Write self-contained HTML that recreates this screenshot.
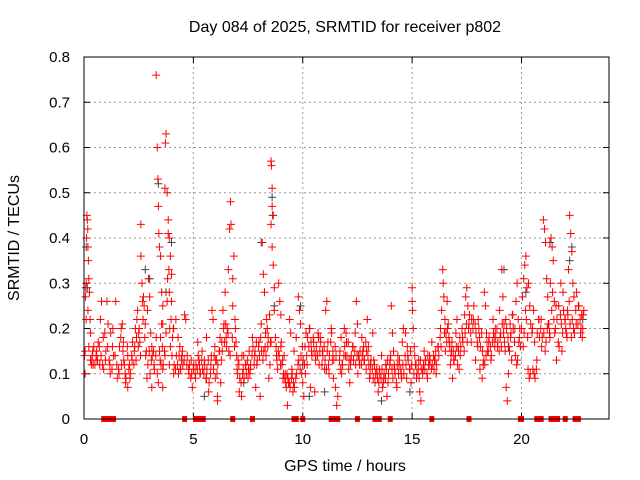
<!DOCTYPE html>
<html><head><meta charset="utf-8"><style>
body{margin:0;background:#fff;}
svg{display:block;font-family:"Liberation Sans",sans-serif;}
</style></head><body>
<svg id="chart" width="640" height="480">
<text x="345" y="32" text-anchor="middle" font-size="16">Day 084 of 2025, SRMTID for receiver p802</text>
<text x="345" y="471" text-anchor="middle" font-size="16">GPS time / hours</text>
<text transform="translate(19,238) rotate(-90)" text-anchor="middle" font-size="16">SRMTID / TECUs</text>
<g id="grid"></g>
<g id="ticks"></g>
<g id="gray"></g>
<g id="red"></g>
<rect x="84" y="57" width="525" height="362" fill="none" stroke="#000" stroke-width="1"/>
</svg>
<script>
const xTicks=[0,5,10,15,20];
const yTicks=[0,0.1,0.2,0.3,0.4,0.5,0.6,0.7,0.8];
const yTickLabels=["0","0.1","0.2","0.3","0.4","0.5","0.6","0.7","0.8"];
const redHours=[0.02,0.05,0.05,0.07,0.1,0.1,0.12,0.13,0.15,0.17,0.18,0.2,0.22,0.25,0.28,0.3,0.3,0.35,0.4,0.45,0.5,0.55,0.6,0.65,0.7,0.75,0.8,0.85,0.9,0.95,1.0,1.05,1.1,1.15,1.2,1.3,1.35,1.45,1.5,1.6,1.7,1.75,1.8,1.85,1.9,2.0,2.0,2.05,2.1,2.2,2.3,2.35,2.4,2.45,2.5,2.55,2.6,2.6,2.65,2.7,2.75,2.8,2.85,2.9,2.95,3.0,3.05,3.1,3.1,3.2,3.3,3.35,3.4,3.45,3.5,3.55,3.6,3.6,3.7,3.75,3.8,3.82,3.85,3.88,3.9,3.9,3.95,4.0,4.05,4.1,3.3,3.35,3.38,3.4,3.42,3.45,3.5,3.55,3.7,3.72,3.75,3.8,3.85,3.9,3.95,4.0,3.6,3.6,4.1,4.2,4.3,4.35,4.4,4.45,4.5,4.6,4.65,4.7,4.8,4.9,4.95,5.0,5.1,5.2,5.25,5.3,5.4,5.5,5.6,5.6,5.7,5.8,5.85,5.9,5.95,6.0,6.05,6.1,6.1,6.2,6.25,6.3,6.35,6.4,6.45,6.5,6.55,6.6,6.65,6.7,6.72,6.8,6.8,6.85,6.9,6.95,7.0,7.05,7.1,7.2,7.25,7.3,7.4,7.5,7.55,7.6,7.7,7.8,7.85,7.9,8.0,8.05,8.1,8.15,8.2,8.25,8.3,8.35,8.4,8.45,8.5,8.55,8.55,8.57,8.6,8.6,8.62,8.55,8.6,8.65,8.7,8.7,8.75,8.8,8.85,8.9,8.95,9.0,9.0,9.05,9.1,9.15,9.2,9.25,9.3,9.35,9.4,9.45,9.5,9.55,9.6,9.7,9.8,9.85,9.9,9.95,10.0,10.05,10.1,10.15,10.2,10.3,10.35,10.4,10.5,10.55,10.6,10.7,10.75,10.8,10.9,11.0,11.05,11.1,11.15,11.2,11.3,11.35,11.4,11.5,11.55,11.6,11.7,11.75,11.8,11.9,11.95,12.0,12.1,12.15,12.2,12.3,12.4,12.45,12.5,12.55,12.6,12.7,12.75,12.8,12.9,12.95,13.0,13.05,13.1,13.2,13.25,13.3,13.4,13.45,13.5,13.6,13.65,13.7,13.8,13.85,13.9,14.0,14.05,14.1,14.15,14.2,14.3,14.35,14.4,14.5,14.55,14.6,14.7,14.75,14.8,14.9,14.95,15.0,15.0,15.02,15.05,15.1,15.15,15.2,15.3,15.35,15.4,15.5,15.55,15.6,15.7,15.75,15.8,15.9,16.0,16.05,16.1,16.2,16.3,16.35,16.4,16.42,16.45,16.5,16.55,16.6,16.65,16.7,16.75,16.8,16.85,16.9,17.0,17.05,17.1,17.15,17.2,17.3,17.4,17.45,17.5,17.55,17.6,17.7,17.8,17.9,18.0,18.05,18.1,18.2,18.25,18.3,18.35,18.4,18.45,18.5,18.6,18.7,18.75,18.8,18.9,19.0,19.05,19.1,19.15,19.2,19.25,19.3,19.35,19.4,19.45,19.5,19.55,19.6,19.7,19.75,19.8,19.85,19.9,19.95,20.0,20.05,20.1,20.15,20.2,20.25,20.3,20.35,20.4,20.5,20.55,20.6,20.7,20.8,20.9,20.95,21.0,21.05,21.1,21.15,21.2,21.25,21.3,21.35,21.4,21.45,21.5,21.55,21.6,21.7,21.8,21.85,21.9,22.0,22.05,22.1,22.15,22.2,22.25,22.3,22.35,22.4,22.5,22.6,22.7,22.75,22.8,22.85,
0.08,0.18,0.22,0.32,0.38,0.42,0.58,0.62,0.72,0.78,0.88,0.98,1.08,1.18,1.22,1.28,1.32,1.42,1.52,1.58,1.62,1.68,1.72,1.78,1.82,1.88,1.92,1.98,2.08,2.12,2.18,2.22,2.28,2.32,2.38,2.42,2.48,2.52,2.58,2.68,2.72,2.78,2.82,2.88,2.92,2.98,3.02,3.08,3.12,3.18,3.22,3.28,3.48,3.52,3.58,3.62,3.68,3.92,3.98,4.02,4.08,4.12,4.18,4.22,4.28,4.32,4.38,4.42,4.48,4.52,4.58,4.72,4.78,4.82,4.88,4.92,5.02,5.08,5.12,5.18,5.22,5.28,5.32,5.38,5.42,5.48,5.52,5.58,5.62,5.68,5.72,5.78,5.82,5.92,5.98,6.02,6.08,6.12,6.18,6.22,6.28,6.32,6.38,6.42,6.48,6.52,6.58,6.62,6.68,6.78,6.88,6.92,6.98,7.02,7.08,7.12,7.18,7.22,7.28,7.32,7.38,7.42,7.48,7.52,7.58,7.62,7.68,7.72,7.78,7.82,7.88,7.92,7.98,8.02,8.08,8.12,8.18,8.22,8.28,8.32,8.38,8.42,8.48,8.52,8.78,8.82,8.88,8.92,8.98,9.02,9.08,9.12,9.18,9.22,9.28,9.32,9.38,9.42,9.48,9.52,9.58,9.62,9.68,9.72,9.78,9.82,9.88,9.92,9.98,10.02,10.08,10.12,10.18,10.22,10.28,10.32,10.38,10.42,10.48,10.52,10.58,10.62,10.68,10.72,10.78,10.82,10.88,10.92,10.98,11.02,11.08,11.12,11.18,11.22,11.28,11.32,11.38,11.42,11.48,11.52,11.68,11.72,11.78,11.82,11.88,11.92,11.98,12.02,12.08,12.12,12.18,12.22,12.28,12.32,12.38,12.42,12.48,12.52,12.58,12.62,12.68,12.72,12.78,12.82,12.88,12.92,12.98,13.02,13.08,13.12,13.18,13.22,13.28,13.32,13.38,13.42,13.48,13.52,13.58,13.62,13.68,13.72,13.78,13.82,13.88,13.92,13.98,14.02,14.08,14.12,14.18,14.22,14.28,14.32,14.38,14.42,14.48,14.52,14.58,14.62,14.68,14.72,14.78,14.82,14.88,14.92,14.98,15.08,15.12,15.18,15.22,15.28,15.32,15.38,15.42,15.48,15.52,15.58,15.62,15.68,15.72,15.78,15.82,15.88,15.92,15.98,16.02,16.08,16.12,16.18,16.22,16.28,16.32,16.48,16.52,16.58,16.62,16.68,16.72,16.78,16.82,16.88,16.92,16.98,17.02,17.08,17.12,17.18,17.22,17.28,17.32,17.38,17.42,17.48,17.52,17.58,17.62,17.68,17.72,17.78,17.82,17.88,17.92,17.98,18.02,18.08,18.12,18.18,18.22,18.28,18.32,18.38,18.42,18.48,18.52,18.58,18.62,18.68,18.72,18.78,18.82,18.88,18.92,18.98,19.02,19.08,19.12,19.18,19.22,19.28,19.32,19.38,19.42,19.48,19.52,19.58,19.62,19.68,19.72,19.78,19.82,19.88,19.92,20.08,20.12,20.18,20.22,20.28,20.32,20.38,20.42,20.48,20.52,20.58,20.62,20.68,20.72,20.78,20.82,20.88,20.92,21.02,21.08,21.12,21.18,21.22,21.28,21.32,21.38,21.42,21.48,21.52,21.58,21.62,21.68,21.72,21.78,21.82,21.88,21.92,21.98,22.02,22.08,22.12,22.18,22.22,22.28,22.32,22.38,22.42,22.48,22.52,22.58,22.62,22.68,22.72,22.78,22.82];
const redValues=[0.14,0.15,0.10,0.27,0.30,0.22,0.40,0.45,0.44,0.42,0.38,0.35,0.31,0.28,0.22,0.19,0.13,0.12,0.15,0.16,0.12,0.14,0.13,0.17,0.16,0.22,0.26,0.12,0.11,0.19,0.15,0.26,0.21,0.13,0.10,0.16,0.14,0.26,0.12,0.10,0.20,0.21,0.17,0.12,0.08,0.14,0.07,0.11,0.09,0.13,0.15,0.20,0.18,0.24,0.19,0.17,0.43,0.36,0.30,0.22,0.25,0.21,0.15,0.24,0.31,0.27,0.19,0.16,0.07,0.12,0.18,0.10,0.08,0.15,0.18,0.21,0.11,0.07,0.14,0.19,0.26,0.31,0.41,0.33,0.28,0.12,0.16,0.26,0.18,0.10,0.76,0.60,0.53,0.47,0.41,0.38,0.36,0.28,0.51,0.61,0.63,0.50,0.44,0.40,0.36,0.32,0.25,0.21,0.20,0.22,0.18,0.14,0.11,0.13,0.15,0.23,0.22,0.12,0.10,0.13,0.07,0.11,0.09,0.17,0.13,0.10,0.15,0.13,0.18,0.09,0.06,0.12,0.24,0.22,0.14,0.09,0.13,0.05,0.04,0.15,0.08,0.17,0.24,0.21,0.28,0.18,0.20,0.33,0.42,0.48,0.43,0.31,0.25,0.36,0.22,0.17,0.11,0.13,0.06,0.05,0.10,0.14,0.12,0.09,0.15,0.11,0.18,0.14,0.07,0.12,0.17,0.05,0.21,0.39,0.32,0.28,0.19,0.22,0.16,0.09,0.12,0.17,0.57,0.56,0.51,0.47,0.45,0.43,0.38,0.34,0.29,0.24,0.18,0.14,0.11,0.30,0.26,0.23,0.16,0.12,0.09,0.14,0.10,0.07,0.03,0.08,0.22,0.19,0.11,0.06,0.15,0.18,0.27,0.24,0.21,0.10,0.08,0.05,0.16,0.19,0.12,0.20,0.07,0.15,0.17,0.06,0.14,0.19,0.12,0.18,0.15,0.11,0.24,0.26,0.17,0.10,0.20,0.13,0.09,0.07,0.03,0.05,0.15,0.18,0.12,0.20,0.14,0.17,0.11,0.08,0.13,0.16,0.19,0.26,0.21,0.14,0.12,0.18,0.15,0.13,0.11,0.22,0.16,0.09,0.12,0.19,0.13,0.08,0.10,0.06,0.11,0.14,0.07,0.09,0.12,0.05,0.08,0.13,0.25,0.19,0.15,0.11,0.07,0.14,0.12,0.10,0.17,0.20,0.19,0.09,0.14,0.11,0.08,0.29,0.26,0.24,0.20,0.16,0.12,0.09,0.13,0.06,0.04,0.11,0.15,0.13,0.09,0.12,0.14,0.17,0.11,0.13,0.10,0.16,0.20,0.24,0.33,0.30,0.27,0.22,0.19,0.26,0.21,0.17,0.12,0.15,0.09,0.13,0.19,0.22,0.16,0.11,0.14,0.18,0.23,0.27,0.29,0.25,0.21,0.17,0.22,0.13,0.16,0.20,0.11,0.09,0.12,0.28,0.25,0.19,0.15,0.17,0.13,0.22,0.18,0.20,0.16,0.24,0.19,0.33,0.27,0.21,0.15,0.07,0.04,0.10,0.15,0.18,0.13,0.23,0.20,0.26,0.30,0.22,0.18,0.16,0.20,0.27,0.31,0.34,0.36,0.29,0.11,0.09,0.10,0.20,0.24,0.17,0.13,0.22,0.22,0.18,0.44,0.42,0.39,0.31,0.27,0.21,0.18,0.40,0.38,0.35,0.26,0.20,0.13,0.25,0.30,0.15,0.28,0.22,0.19,0.24,0.33,0.45,0.41,0.37,0.30,0.27,0.21,0.25,0.19,0.23,0.20,0.24,
0.29,0.24,0.16,0.13,0.14,0.12,0.15,0.13,0.12,0.14,0.18,0.13,0.16,0.12,0.19,0.11,0.20,0.14,0.09,0.11,0.16,0.18,0.12,0.15,0.13,0.10,0.09,0.16,0.12,0.10,0.14,0.17,0.12,0.16,0.13,0.22,0.16,0.20,0.14,0.26,0.27,0.18,0.14,0.09,0.12,0.15,0.10,0.13,0.14,0.15,0.11,0.14,0.13,0.12,0.16,0.12,0.15,0.20,0.22,0.14,0.20,0.12,0.11,0.14,0.12,0.10,0.16,0.11,0.14,0.12,0.13,0.14,0.11,0.12,0.09,0.10,0.12,0.10,0.12,0.11,0.14,0.12,0.10,0.13,0.11,0.10,0.12,0.09,0.11,0.13,0.08,0.10,0.14,0.11,0.16,0.13,0.10,0.12,0.15,0.18,0.13,0.15,0.20,0.17,0.21,0.16,0.19,0.15,0.14,0.18,0.16,0.20,0.14,0.10,0.12,0.09,0.08,0.14,0.11,0.09,0.12,0.10,0.13,0.11,0.10,0.12,0.14,0.16,0.12,0.15,0.17,0.13,0.16,0.14,0.18,0.15,0.13,0.15,0.16,0.14,0.20,0.18,0.23,0.17,0.16,0.13,0.15,0.14,0.12,0.17,0.13,0.10,0.09,0.08,0.10,0.09,0.08,0.07,0.09,0.10,0.08,0.07,0.09,0.10,0.12,0.13,0.11,0.14,0.16,0.13,0.12,0.10,0.14,0.18,0.16,0.20,0.17,0.14,0.18,0.15,0.13,0.16,0.14,0.18,0.15,0.17,0.12,0.14,0.16,0.13,0.11,0.15,0.12,0.14,0.17,0.19,0.15,0.13,0.16,0.14,0.13,0.11,0.10,0.12,0.14,0.16,0.19,0.14,0.17,0.13,0.12,0.14,0.16,0.13,0.15,0.12,0.14,0.10,0.13,0.15,0.12,0.14,0.16,0.13,0.17,0.15,0.14,0.12,0.10,0.13,0.11,0.09,0.12,0.10,0.11,0.09,0.08,0.10,0.09,0.11,0.08,0.10,0.09,0.11,0.13,0.10,0.12,0.14,0.11,0.09,0.12,0.10,0.08,0.12,0.10,0.13,0.11,0.09,0.12,0.10,0.14,0.12,0.16,0.13,0.11,0.15,0.12,0.10,0.14,0.12,0.10,0.11,0.09,0.13,0.11,0.10,0.12,0.11,0.13,0.10,0.14,0.12,0.13,0.11,0.12,0.14,0.13,0.15,0.12,0.16,0.14,0.18,0.16,0.19,0.15,0.17,0.20,0.18,0.16,0.14,0.17,0.15,0.13,0.14,0.16,0.12,0.15,0.18,0.16,0.20,0.17,0.15,0.19,0.21,0.17,0.20,0.23,0.19,0.22,0.20,0.25,0.21,0.19,0.17,0.22,0.18,0.16,0.19,0.15,0.13,0.12,0.14,0.17,0.15,0.18,0.16,0.14,0.17,0.19,0.16,0.18,0.20,0.17,0.15,0.18,0.16,0.21,0.19,0.17,0.22,0.20,0.18,0.16,0.21,0.19,0.23,0.20,0.17,0.14,0.12,0.13,0.17,0.20,0.16,0.19,0.24,0.22,0.18,0.30,0.25,0.21,0.19,0.11,0.10,0.09,0.11,0.19,0.22,0.18,0.20,0.16,0.19,0.15,0.17,0.20,0.21,0.19,0.30,0.24,0.28,0.22,0.19,0.25,0.22,0.17,0.16,0.23,0.21,0.19,0.24,0.22,0.20,0.18,0.23,0.26,0.21,0.18,0.22,0.20,0.19,0.24,0.28,0.21,0.25,0.22,0.20,0.18,0.23,0.21,0.19,0.22,0.20];
const zeroHours=[0.9,1.0,1.2,1.35,4.6,5.1,5.3,5.45,6.8,7.7,9.6,9.7,10.0,11.3,11.4,11.5,11.6,12.5,13.3,13.4,13.5,14.0,15.9,17.6,19.95,20.0,20.7,20.8,20.9,21.35,21.45,21.55,21.65,22.0,22.45,22.6];
const grayHours=[0.1,0.15,2.8,3.0,3.4,3.75,4.0,5.5,7.3,8.1,8.6,8.65,8.7,9.9,10.0,10.3,11.0,13.6,13.8,14.9,19.2,19.4,20.2,21.3,22.2,22.3,22.8];
const grayValues=[0.38,0.29,0.33,0.31,0.52,0.28,0.39,0.05,0.08,0.39,0.49,0.45,0.25,0.25,0.12,0.05,0.06,0.04,0.12,0.06,0.33,0.16,0.28,0.39,0.35,0.38,0.22];
const NS="http://www.w3.org/2000/svg";
const X0=84,X1=609,Y0=419,Y1=57;
const xs=h=>X0+(h/24)*(X1-X0);
const ys=v=>Y0-(v/0.8)*(Y0-Y1);
function mk(tag,attrs,parent){const e=document.createElementNS(NS,tag);for(const k in attrs)e.setAttribute(k,attrs[k]);parent.appendChild(e);return e;}
const grid=document.getElementById('grid'),ticks=document.getElementById('ticks');
xTicks.forEach(t=>{const x=xs(t);
 if(t>0){const l=mk('line',{x1:x,x2:x,y1:Y1,y2:Y0,stroke:'#999','stroke-dasharray':'2,3'},grid);
 
 }
 mk('line',{x1:x,x2:x,y1:Y0,y2:Y0-6,stroke:'#000'},ticks);mk('line',{x1:x,x2:x,y1:Y1,y2:Y1+6,stroke:'#000'},ticks);
 const tx=mk('text',{x:x,y:444,'text-anchor':'middle','font-size':15},ticks);tx.textContent=String(t);
 
 });
yTicks.forEach((t,i)=>{const y=ys(t);
 if(t>0&&t<0.8){const l=mk('line',{x1:X0,x2:X1,y1:y,y2:y,stroke:'#999','stroke-dasharray':'2,3'},grid);
 
 }
 mk('line',{x1:X0,x2:X0+6,y1:y,y2:y,stroke:'#000'},ticks);mk('line',{x1:X1,x2:X1-6,y1:y,y2:y,stroke:'#000'},ticks);
 const tx=mk('text',{x:70,y:y+5,'text-anchor':'end','font-size':15},ticks);tx.textContent=yTickLabels[i];
 
 });
function cross(g,h,v,col){const x=xs(h),y=ys(v);
 const p=mk('path',{d:`M${x-4},${y}H${x+4}M${x},${y-4}V${y+4}`,stroke:col,'stroke-width':1,fill:'none'},g);
 
 }
const gg=document.getElementById('gray'),rg=document.getElementById('red');
grayHours.forEach((h,i)=>cross(gg,h,grayValues[i],'#444'));
redHours.forEach((h,i)=>cross(rg,h,redValues[i],'#f00'));
zeroHours.forEach(h=>{const r=mk('rect',{x:xs(h)-2.5,y:Y0-3,width:5,height:6,fill:'#f00'},rg);
 
 });
</script>
</body></html>
